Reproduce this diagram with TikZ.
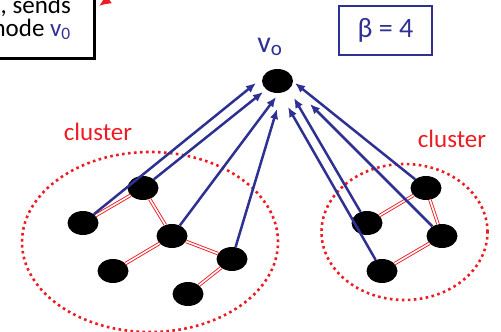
\documentclass[tikz,border=0pt]{standalone}
\usepackage{fontspec}
\setmainfont{Carlito}
\usetikzlibrary{shapes.geometric,arrows.meta}
\definecolor{navy}{RGB}{46,49,146}
\definecolor{cred}{RGB}{237,28,36}
\begin{document}
\begin{tikzpicture}[x=1pt,y=-1pt,
 vnode/.style={ellipse,fill=black,minimum width=31pt,minimum height=24pt,inner sep=0pt},
 link/.style={draw=cred,double=white,line width=0.9pt,double distance=1.6pt},
 up/.style={draw=navy,line width=2.5pt,-{Latex[length=10pt,width=8.5pt]}},
 clus/.style={draw=cred,line width=2.6pt,dash pattern=on 2.6pt off 3.4pt},
 lbl/.style={text=cred,inner sep=0pt,font=\fontsize{25}{27}\selectfont}]
\useasboundingbox (0,0) rectangle (501,332);
\clip (0,0) rectangle (501,332);
% clusters
\draw[clus] (150,242) ellipse [x radius=128pt, y radius=90pt];
\draw[clus] (404.5,232) ellipse [x radius=83pt, y radius=68pt];
\node[lbl] (cl1) at (98,132) {cluster};
\node[lbl] (cl2) at (452,139) {cluster};
% nodes
\node[vnode] (v0) at (277.5,81) {};
\node[inner sep=0pt,text=navy,font=\fontsize{30}{32}\selectfont] (v0l) at (270,47) {v\textsubscript{o}};
\node[vnode] (A) at (83,223) {};
\node[vnode] (B) at (143,188) {};
\node[vnode] (C) at (172,236) {};
\node[vnode] (D) at (113,271) {};
\node[vnode] (E) at (232,259) {};
\node[vnode] (F) at (188,294) {};
\node[vnode] (G) at (426,188) {};
\node[vnode] (H) at (367,223) {};
\node[vnode] (I) at (442,236) {};
\node[vnode] (J) at (382,271) {};
% tree links
\draw[link] (A) -- (B);
\draw[link] (B) -- (C);
\draw[link] (C) -- (D);
\draw[link] (C) -- (E);
\draw[link] (E) -- (F);
\draw[link] (G) -- (H);
\draw[link] (G) -- (I);
\draw[link] (I) -- (J);
% arrow tips
\coordinate (tA) at (256,83);
\coordinate (tB) at (263,92);
\coordinate (tC) at (276,97);
\coordinate (tE) at (277,109);
\coordinate (tG) at (295,83);
\coordinate (tH) at (294,98);
\coordinate (tI) at (310,104);
\coordinate (tJ) at (288,107);
\draw[up] (A) -- (tA);
\draw[up] (B) -- (tB);
\draw[up] (C) -- (tC);
\draw[up] (E) -- (tE);
\draw[up] (G) -- (tG);
\draw[up] (H) -- (tH);
\draw[up] (I) -- (tI);
\draw[up] (J) -- (tJ);
% beta box
\node[draw=navy,line width=2.5pt,minimum width=93pt,minimum height=49pt,text=navy,font=\fontsize{28}{30}\selectfont] (beta) at (385.5,30.5) {β = 4\hspace{12pt}};
% top-left box
\draw[line width=3pt] (-20,-20) rectangle (94,58);
\node[anchor=base east,inner sep=0pt,font=\fontsize{25}{27}\selectfont] (t1) at (71,13) {, sends};
\node[anchor=base east,inner sep=0pt,font=\fontsize{25}{27}\selectfont] (t2) at (71,36) {node \textcolor{navy}{v\textsubscript{0}}};
\coordinate (rs) at (135,-20);
\coordinate (re) at (99,6);
\draw[cred,line width=3pt,-{Latex[length=12pt,width=11pt]}] (rs) -- (re);
\end{tikzpicture}
\end{document}
